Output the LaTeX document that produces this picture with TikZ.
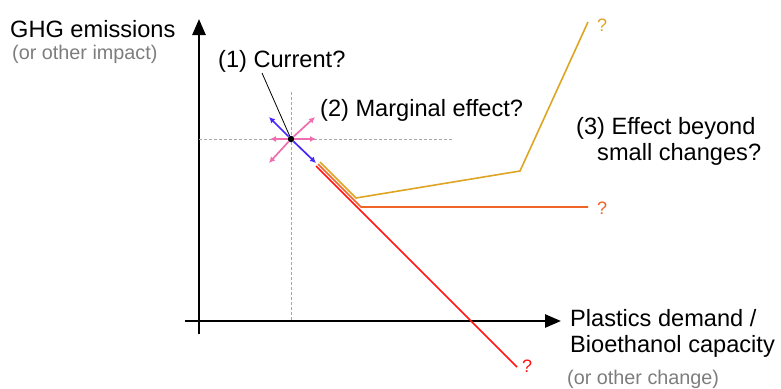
\documentclass[tikz,border=0pt]{standalone}
\usepackage{fontspec}
\setmainfont{Liberation Sans}
\usetikzlibrary{arrows.meta}
\definecolor{pathgold}{RGB}{222,165,35}
\definecolor{pathorange}{RGB}{240,100,40}
\definecolor{pathred}{RGB}{255,20,20}
\definecolor{dirblue}{RGB}{70,40,255}
\definecolor{dirpink}{RGB}{240,110,175}
\definecolor{notegray}{RGB}{125,125,125}

\begin{document}
\begin{tikzpicture}[
    x=1pt,y=-1pt,
    lbl/.style={font=\fontsize{23.6}{26}\selectfont,inner sep=0pt,anchor=base west,align=left},
    sublbl/.style={font=\fontsize{19.8}{22}\selectfont,text=notegray,inner sep=0pt,anchor=base west},
    qmark/.style={font=\fontsize{18}{20}\selectfont,inner sep=0pt},
    axis/.style={line width=2.6pt,-{Triangle[length=16pt,width=13pt]}},
    guide/.style={densely dashed,draw=gray!70,line width=0.6pt},
    dir/.style={line width=1.7pt,-{Latex[length=6pt,width=6pt]}},
    path/.style={line width=1.6pt}
  ]
    \useasboundingbox (0,0) rectangle (781,388);

    % axes
    \coordinate (xstart) at (185,321);
    \coordinate (xend) at (561,321);
    \coordinate (ystart) at (199,334);
    \coordinate (yend) at (199,19);
    \draw[axis] (xstart) -- (xend);
    \draw[axis] (ystart) -- (yend);

    \node[lbl] (ylab) at (10,37) {GHG emissions};
    \node[sublbl] (ysub) at (12,59) {(or other impact)};
    \node[lbl] (xlab) at (570,352) {Plastics demand /\\Bioethanol capacity};
    \node[sublbl] (xsub) at (567,384) {(or other change)};

    % current point and guides
    \coordinate (gx) at (453,139);
    \coordinate (gy0) at (291,92);
    \coordinate (gy1) at (291,321);
    \coordinate (gx0) at (199,139);
    \draw[guide] (gx0) -- (gx);
    \draw[guide] (gy0) -- (gy1);

    \node[lbl] (cur) at (218,67) {(1) Current?};
    \node[lbl] (marg) at (320,116) {(2) Marginal effect?};
    \node[lbl] (beyond) at (576,160) {(3) Effect beyond\\\hspace{21pt}small changes?};

    \node[circle,fill=black,inner sep=0pt,minimum size=6.5pt] (ctr) at (291,139) {};
    \coordinate (curtail) at (262,73);
    \draw[line width=0.8pt] (curtail) -- (ctr);

    % marginal directions
    \coordinate (pl) at (270,139);
    \coordinate (pr) at (316,139);
    \coordinate (pur) at (315,117);
    \coordinate (pdl) at (269,163);
    \coordinate (bul) at (269,117);
    \coordinate (bdr) at (316,163);
    \draw[dir,dirpink] (ctr) -- (pl);
    \draw[dir,dirpink] (ctr) -- (pr);
    \draw[dir,dirpink] (ctr) -- (pur);
    \draw[dir,dirpink] (ctr) -- (pdl);
    \draw[dir,dirblue] (ctr) -- (bul);
    \draw[dir,dirblue] (ctr) -- (bdr);

    % paths beyond small changes
    \node[qmark,text=pathred] (qred) at (527,366) {?};
    \node[qmark,text=pathorange] (qorange) at (602,208) {?};
    \node[qmark,text=pathgold] (qgold) at (602,25) {?};

    \coordinate (r0) at (316,166);
    \coordinate (r1) at (517,367);
    \draw[path,pathred] (r0) -- (r1);

    \coordinate (o0) at (318,164);
    \coordinate (o1) at (361,207);
    \coordinate (o2) at (588,207);
    \draw[path,pathorange] (o0) -- (o1) -- (o2);

    \coordinate (g0) at (320,162);
    \coordinate (g1) at (356,198);
    \coordinate (g2) at (520,171);
    \coordinate (g3) at (588,22);
    \draw[path,pathgold] (g0) -- (g1) -- (g2) -- (g3);
\end{tikzpicture}
\end{document}
